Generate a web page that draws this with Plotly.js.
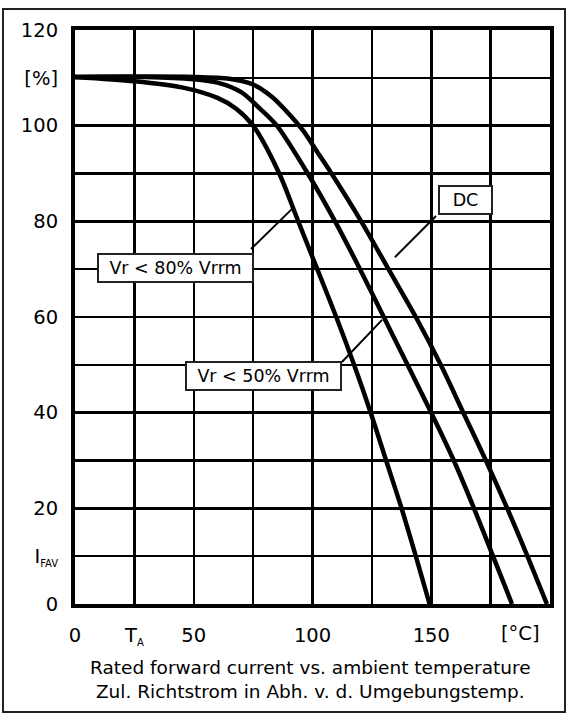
<!DOCTYPE html>
<html>
<head>
<meta charset="utf-8">
<script src="https://cdn.plot.ly/plotly-3.0.1.min.js"></script>
<style>html,body{margin:0;padding:0;background:#fff;}#chart{width:568px;height:716px;}</style>
</head>
<body>
<div id="chart"></div>
<script>
// Curve data (x: ambient temperature °C, y: rated forward current %)
const tempVr80 = [0, 25, 45, 60, 68, 75, 86, 94, 102, 110, 117.5, 124.5, 131, 137.5, 143.5, 149.3];
const curVr80  = [110.2, 109.3, 108, 105.8, 103.5, 100, 90, 80, 70, 60, 50, 40, 30, 20, 10, 0];

const tempVr50 = [0, 30, 50, 60, 70, 78, 85, 98, 109.5, 120, 130, 140, 150, 159.5, 168, 176, 184];
const curVr50  = [110.2, 110.2, 109.7, 109, 107, 103.5, 100, 90, 80, 70, 60, 50, 40, 30, 20, 10, 0];

const tempDC = [0, 50, 65, 75, 83, 90, 96, 102, 108, 120.5, 132, 143.5, 154, 163.5, 173, 182, 190.5, 198.7];
const curDC  = [110.2, 110.2, 109.8, 108.6, 106, 102.5, 99, 94.5, 90, 80, 70, 60, 50, 40, 30, 20, 10, 0];

// Axis ticks
const xTickVals = [0, 25, 50, 75, 100, 125, 150, 175, 200];
const xTickText = ['0', 'T<sub><span style="font-size:10px">A</span></sub>', '50', ' ', '100', ' ', '150', ' ', ' '];
const yTickVals = [0, 10, 20, 30, 40, 50, 60, 70, 80, 90, 100, 110, 120];
const yTickText = ['0', 'I<sub><span style="font-size:10px">FAV</span></sub>', '20', ' ', '40', ' ', '60', ' ', '80', ' ', '100', '[%]', '120'];

// Labels
const labelTexts = ['Vr &lt; 80% Vrrm', 'Vr &lt; 50% Vrrm', 'DC'];
const labelX = [42.3, 79.4, 164.4];
const labelY = [70.2, 47.7, 84.4];
const labelW = [149, 149, 47];
const leaderX0 = [74.1, 112.4, 152];
const leaderY0 = [74.2, 50.6, 81.1];
const leaderX1 = [91.4, 129.3, 134.7];
const leaderY1 = [82.6, 59.4, 72.5];

const unitLabel = '[°C]';
const unitX = 187.5;
const caption = 'Rated forward current vs. ambient temperature<br>Zul. Richtstrom in Abh. v. d. Umgebungstemp.';

const FONT = 'DejaVu Sans, Verdana, sans-serif';
const lineStyle = {color: '#000', width: 4.5, shape: 'spline', smoothing: 0.8};

const traces = [
  {x: tempVr80, y: curVr80, mode: 'lines', line: lineStyle, name: 'Vr < 80% Vrrm', hoverinfo: 'skip'},
  {x: tempVr50, y: curVr50, mode: 'lines', line: lineStyle, name: 'Vr < 50% Vrrm', hoverinfo: 'skip'},
  {x: tempDC, y: curDC, mode: 'lines', line: lineStyle, name: 'DC', hoverinfo: 'skip'}
];

const shapes = [
  {type: 'rect', xref: 'paper', yref: 'paper', x0: -0.1516, x1: 1.0316, y0: -0.188, y1: 1.0366,
   line: {color: '#222', width: 2}, layer: 'below'}
];
for (let i = 0; i < leaderX0.length; i++) {
  shapes.push({type: 'line', xref: 'x', yref: 'y', x0: leaderX0[i], y0: leaderY0[i], x1: leaderX1[i], y1: leaderY1[i],
    line: {color: '#000', width: 2}});
}

const annotations = [];
for (let i = 0; i < labelTexts.length; i++) {
  annotations.push({x: labelX[i], y: labelY[i], xref: 'x', yref: 'y', text: labelTexts[i], showarrow: false,
    font: {family: FONT, size: 17.5, color: '#000'}, bgcolor: '#fff', bordercolor: '#222', borderwidth: 2,
    borderpad: 2, width: labelW[i], height: 22, align: 'center', valign: 'middle'});
}
annotations.push({x: unitX, y: -0.052, xref: 'x', yref: 'paper', text: unitLabel, showarrow: false,
  font: {family: FONT, size: 19.5, color: '#000'}, xanchor: 'center', yanchor: 'middle'});
annotations.push({x: 0.495, y: -0.1315, xref: 'paper', yref: 'paper', text: caption, showarrow: false,
  font: {family: FONT, size: 18.5, color: '#000'}, xanchor: 'center', yanchor: 'middle', align: 'center'});

const layout = {
  width: 568, height: 716,
  margin: {l: 75, r: 18, t: 30, b: 112, pad: 0},
  paper_bgcolor: '#fff', plot_bgcolor: '#fff',
  showlegend: false,
  font: {family: FONT, color: '#000'},
  xaxis: {range: [0, 200], tickvals: xTickVals, ticktext: xTickText, showgrid: true, gridcolor: '#000', gridwidth: 2.5,
    showline: true, linecolor: '#000', linewidth: 4, mirror: true, ticks: '', zeroline: false,
    tickfont: {family: FONT, size: 19.5, color: '#000'}, ticklabelstandoff: 11, fixedrange: true},
  yaxis: {range: [0, 120], tickvals: yTickVals, ticktext: yTickText, showgrid: true, gridcolor: '#000', gridwidth: 2.5,
    showline: true, linecolor: '#000', linewidth: 4, mirror: true, ticks: '', zeroline: false,
    tickfont: {family: FONT, size: 19.5, color: '#000'}, ticklabelstandoff: 9, fixedrange: true},
  shapes: shapes,
  annotations: annotations
};

Plotly.newPlot('chart', traces, layout, {staticPlot: true, displayModeBar: false});
</script>
</body>
</html>
